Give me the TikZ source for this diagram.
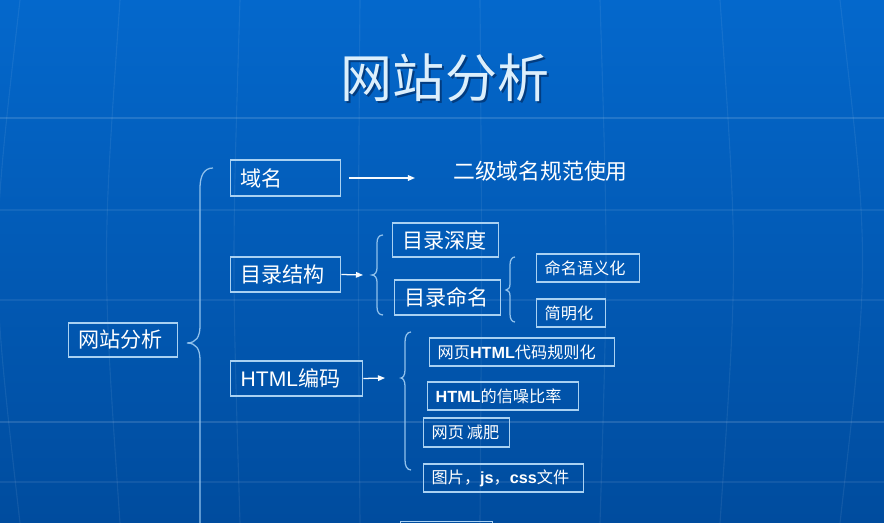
\documentclass[tikz,border=0pt]{standalone}
\usepackage{fontspec}
\setmainfont{Noto Sans CJK SC}
\newfontfamily\latin{Liberation Sans}
\usetikzlibrary{arrows.meta,calc}
\definecolor{bgtop}{HTML}{0468CC}
\definecolor{bgbot}{HTML}{004C9E}
\definecolor{boxline}{HTML}{A9D1F2}
\definecolor{titletext}{HTML}{DCEFFC}
\definecolor{titleshade}{HTML}{023C80}
\newcommand{\hl}[1]{{\latin\bfseries #1}}

\begin{document}
\begin{tikzpicture}[
  x=0.025cm,y=-0.025cm,
  big/.style={font=\fontsize{15}{18}\selectfont},
  small/.style={font=\fontsize{11.5}{14}\selectfont},
  box/.style={draw=boxline,line width=1pt,text=white,align=left,inner xsep=0.25cm,inner ysep=0pt,anchor=west,big},
  sbox/.style={box,inner xsep=0.2cm,small},
  brc/.style={draw=boxline!85!bgtop,line width=0.9pt},
  arr/.style={-{Triangle[length=5pt,width=4pt]},draw=white!90!boxline,line width=0.9pt},
  gridline/.style={white,opacity=0.07,line width=0.8pt}
]
\useasboundingbox (0,0) rectangle (884,523);
\clip (0,0) rectangle (884,523);
% background
\fill[top color=bgtop,bottom color=bgbot] (0,0) rectangle (884,523);
\foreach \y in {210,300,482}
  \draw[gridline] (0,\y) -- (884,\y);
\foreach \y in {118,422}
  \draw[gridline,opacity=0.13] (0,\y) -- (884,\y);
\foreach \x/\d in {20/-30,120/-18,240/-8,360/-2,480/2,600/8,720/18,840/30}
  \draw[gridline] (\x,0) .. controls (\x+\d,260) .. (\x,523);

% title
\node[text=titleshade,font=\fontsize{37}{40}\selectfont] (titleshadow) at (447,80) {网站分析};
\node[text=titletext,font=\fontsize{37}{40}\selectfont] (title) at (445,78) {网站分析};

% level 1
\node[box,text width=2.225cm,minimum height=0.85cm] (site) at (68,340) {网站分析};

% level 2
\node[box,text width=2.25cm,minimum height=0.9cm] (ym) at (230,178) {域名};
\node[box,text width=2.25cm,minimum height=0.875cm] (mljg) at (230,274.5) {目录结构};
\node[box,text width=2.8cm,minimum height=0.875cm] (html) at (230,378.5) {{\latin HTML}编码};
\node[box,text width=1.8cm,minimum height=0.75cm,anchor=north west] (more) at (400,521) {};

\node[text=white,inner sep=0pt,anchor=west,font=\fontsize{15.5}{18}\selectfont] (ejym) at (453,171) {二级域名规范使用};

% level 3
\node[box,text width=2.15cm,minimum height=0.85cm] (mlsd) at (392,240) {目录深度};
\node[box,text width=2.15cm,minimum height=0.875cm] (mlmm) at (394,297.5) {目录命名};
\node[sbox,text width=2.175cm,minimum height=0.7cm] (yyh) at (536,268) {命名语义化};
\node[sbox,text width=1.325cm,minimum height=0.7cm] (jmh) at (536,313) {简明化};
\node[sbox,text width=4.225cm,minimum height=0.7cm] (gzh) at (429,352) {网页\hl{HTML}代码规则化};
\node[sbox,text width=3.375cm,minimum height=0.7cm] (xzb) at (427,396) {\hl{HTML}的信噪比率};
\node[sbox,text width=1.75cm,minimum height=0.725cm] (jf) at (423,432.5) {\mbox{网页\kern2pt 减肥}};
\node[sbox,text width=3.6cm,minimum height=0.7cm] (wj) at (423,478) {图片，\hl{js}，\hl{css}文件};

% braces
\coordinate (b1) at (187,343);
\coordinate (b2) at (372,275);
\coordinate (b3) at (506,290);
\coordinate (b4) at (401,378);
\draw[brc] (213,168) .. controls (204,168) and (200,176) .. (200,188) -- (200,326)
  .. controls (200,337) and (196,343) .. (b1) .. controls (196,343) and (200,349) .. (200,360) -- (200,560);
\draw[brc] (383,235) .. controls (379,235) and (377,238) .. (377,243) -- (377,268)
  .. controls (377,272) and (375,275) .. (b2) .. controls (375,275) and (377,278) .. (377,282)
  -- (377,307) .. controls (377,312) and (379,315) .. (383,315);
\draw[brc] (515,257) .. controls (512,257) and (510,260) .. (510,265) -- (510,284)
  .. controls (510,288) and (508,290) .. (b3) .. controls (508,290) and (510,292) .. (510,296)
  -- (510,314) .. controls (510,319) and (512,322) .. (515,322);
\draw[brc] (411,332) .. controls (407,332) and (405,336) .. (405,342) -- (405,370)
  .. controls (405,375) and (403,378) .. (b4) .. controls (403,378) and (405,381) .. (405,386)
  -- (405,460) .. controls (405,466) and (407,470) .. (411,470);

% arrows
\draw[arr] ($(ym.east)+(8,0)$) -- ($(ym.east -| ejym.west)+(-38,0)$);
\draw[arr] (mljg.east) -- ($(b2)+(-9,0)$);
\draw[arr] (html.east) -- ($(b4)+(-16,0)$);
\end{tikzpicture}
\end{document}
